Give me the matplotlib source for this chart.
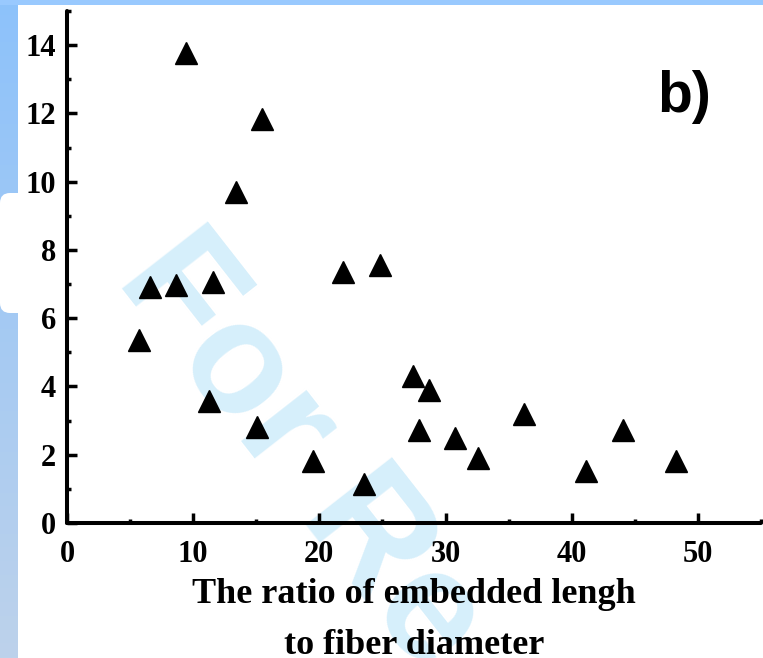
import numpy as np
import matplotlib
import matplotlib.pyplot as plt
from matplotlib.patches import Rectangle, FancyBboxPatch
from matplotlib.ticker import MultipleLocator

matplotlib.use('Agg')

# Отношение длины заделки к диаметру волокна
ratio = [5.7, 6.6, 8.6, 9.4, 11.6, 11.25, 13.4, 15.45, 15.06, 19.5, 21.85, 24.8,
         23.5, 27.45, 28.7, 27.9, 30.75, 32.6, 36.2, 41.15, 44.1, 48.3]
# Значения по оси y
values = [5.35, 6.92, 6.96, 13.77, 7.07, 3.56, 9.71, 11.85, 2.8, 1.83, 7.36, 7.57,
          1.14, 4.32, 3.9, 2.73, 2.5, 1.89, 3.18, 1.51, 2.73, 1.82]

W, H = 763, 658
serif = ['Liberation Serif', 'DejaVu Serif']

fig = plt.figure(figsize=(W / 100, H / 100), dpi=100, facecolor='white')

# Фон: синие полосы слева и сверху
bg = fig.add_axes([0, 0, 1, 1], zorder=-10)
grad = np.linspace(0, 1, 256).reshape(-1, 1)
cmap = matplotlib.colors.LinearSegmentedColormap.from_list('bl', ['#8dc2fb', '#bdd2eb'])
bg.imshow(grad, cmap=cmap, extent=(0, 18, H, 0), aspect='auto')
bg.add_patch(Rectangle((0, 0), W, 5, color='#99c9fe', lw=0))
bg.add_patch(FancyBboxPatch((0, 193), 30, 120, boxstyle='round,pad=0,rounding_size=10',
                            color='white', lw=0))
bg.set_xlim(0, W)
bg.set_ylim(H, 0)
bg.axis('off')

# Водяной знак
fig.text(115 / W, 1 - 280 / H, 'For Re', fontsize=114, fontweight='bold',
         family=['Liberation Sans', 'DejaVu Sans'], color='#d6effb', rotation=-52,
         rotation_mode='anchor', ha='left', va='baseline', zorder=-5)

ax = fig.add_axes([67 / W, (H - 523) / H, (761 - 67) / W, (523 - 11) / H])
ax.set_facecolor('none')
ax.plot(ratio, values, linestyle='none', marker='^', markersize=16, color='black')

ax.set_xlim(0, 55)
ax.set_ylim(0, 15)
ax.xaxis.set_major_locator(MultipleLocator(10))
ax.xaxis.set_minor_locator(MultipleLocator(5))
ax.yaxis.set_major_locator(MultipleLocator(2))
ax.yaxis.set_minor_locator(MultipleLocator(1))

for s in ['top', 'right']:
    ax.spines[s].set_visible(False)
for s in ['left', 'bottom']:
    ax.spines[s].set_linewidth(2.9)
    ax.spines[s].set_capstyle('round')

ax.tick_params(which='major', direction='in', length=7, width=2.5)
ax.tick_params(which='minor', direction='in', length=3, width=2.5)
ax.tick_params(axis='x', pad=12)
ax.tick_params(axis='y', pad=8)
for lab in ax.get_xticklabels() + ax.get_yticklabels():
    lab.set_family(serif)
    lab.set_fontweight('bold')
    lab.set_fontsize(22)

ax.set_xlabel('The ratio of embedded lengh\nto fiber diameter', family=serif,
              fontweight='bold', fontsize=26, linespacing=1.7, labelpad=7)

fig.text(657 / W, 1 - 112 / H, 'b)', family=['Liberation Sans', 'DejaVu Sans'],
         fontweight='bold', fontsize=41, ha='left', va='baseline')

plt.savefig('out.png', dpi=100)
